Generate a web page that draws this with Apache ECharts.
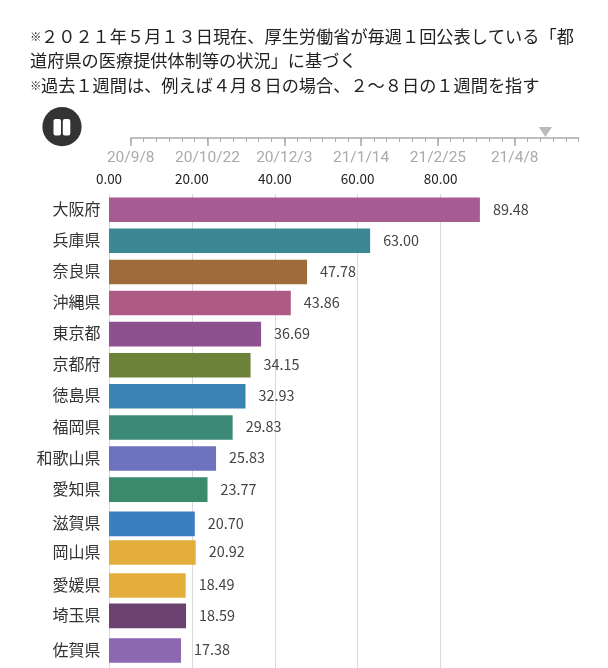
<!DOCTYPE html>
<html><head><meta charset="utf-8">
<style>html,body{margin:0;padding:0;background:#fff}#c{width:608px;height:668px}</style>
<script src="https://cdn.jsdelivr.net/npm/echarts@6/dist/echarts.min.js"></script>
</head><body><div id="c"></div>
<script>
const noteLines = [
  "２０２１年５月１３日現在、厚生労働省が毎週１回公表している「都",
  "道府県の医療提供体制等の状況」に基づく",
  "過去１週間は、例えば４月８日の場合、２～８日の１週間を指す"
];
const prefectures = ["大阪府","兵庫県","奈良県","沖縄県","東京都","京都府","徳島県","福岡県","和歌山県","愛知県","滋賀県","岡山県","愛媛県","埼玉県","佐賀県"];
const values = [89.48,63.00,47.78,43.86,36.69,34.15,32.93,29.83,25.83,23.77,20.70,20.92,18.49,18.59,17.38];
// ranks are fractional: the picture is a frame of a running bar race
const ranks = [0,1,2,3,4,5,6,7,8,9,10.1,11.02,12.08,13.06,14.17];
const colors = ["#a65b92","#3b8793","#9d6c39","#ad5a85","#8d5190","#6b8238","#3a84b4","#3c8a75","#6e71bd","#3c8a6c","#3a7fc0","#e3ae3c","#e3ae3c","#6b4270","#8b68b0"];
const timelineLabels = ["20/9/8","20/10/22","20/12/3","21/1/14","21/2/25","21/4/8"];
const timelineWeeks = 35;
const timelineCurrent = 32.4;

const FONT = '"Noto Sans CJK JP","Noto Sans",sans-serif';
const chart = echarts.init(document.getElementById('c'), null, {renderer:'canvas'});

function note(text, top, star) {
  return {
    left: 30, top: top, padding: 0,
    text: (star ? '{s|※}' : '') + '{t|' + text + '}',
    textStyle: { fontWeight:'normal', rich: {
      s: {fontFamily: FONT, fontSize: 11.5, fontWeight:'bold', color:'#222', width: 11},
      t: {fontFamily: FONT, fontSize: 17.2, fontWeight:'normal', color:'#222'}
    }}
  };
}

chart.setOption({
  animation: false,
  backgroundColor: '#fff',
  title: [note(noteLines[0], 28, true), note(noteLines[1], 52, false), note(noteLines[2], 77, true)],
  grid: [
    {left: 109, top: 194, width: 414.5, height: 474},
    {left: 130.7, top: 118, width: 448, height: 20}
  ],
  xAxis: [
    {
      gridIndex: 0, type: 'value', position: 'top', min: 0, max: 100, interval: 20,
      axisLine: {show:false}, axisTick: {show:false},
      splitLine: {show:true, showMaxLine:false, lineStyle:{color:'#d8d8de', width:1}},
      axisLabel: {
        margin: 8, showMaxLabel:false, color:'#222', fontFamily: FONT, fontSize: 13.5,
        formatter: v => v.toFixed(2)
      }
    },
    {
      gridIndex: 1, type: 'value', position: 'bottom', min: 0, max: timelineWeeks, interval: 1,
      axisLine: {show:true, lineStyle:{color:'#aaaaaa', width:1.5}},
      axisTick: {show:true, length:4, lineStyle:{color:'#aaaaaa', width:1}},
      axisLabel: {show:false}, splitLine: {show:false}
    },
    {
      gridIndex: 1, type: 'value', position: 'bottom', min: 0, max: timelineWeeks, interval: 6,
      axisLine: {show:false},
      axisTick: {show:true, length:8, lineStyle:{color:'#aaaaaa', width:1.5}},
      axisLabel: {
        margin: 12, showMaxLabel:false, color:'#aaaaaa', fontFamily:'Roboto', fontSize: 15.5,
        formatter: v => timelineLabels[v / 6] || ''
      },
      splitLine: {show:false}
    }
  ],
  yAxis: [
    {gridIndex:0, type:'value', inverse:true, min:-0.505, max:14.735, show:false},
    {gridIndex:1, type:'value', min:0, max:1, show:false}
  ],
  graphic: [
    {type:'circle', shape:{cx:62, cy:126.7, r:19.6}, style:{fill:'#333333'}, z:10},
    {type:'rect', shape:{x:53.5, y:119, width:7.5, height:16.6, r:2}, style:{fill:'#ffffff'}, z:11},
    {type:'rect', shape:{x:62.8, y:119, width:7.5, height:16.6, r:2}, style:{fill:'#ffffff'}, z:11}
  ],
  series: [
    {
      type:'custom', xAxisIndex:0, yAxisIndex:0, clip:false,
      encode:{x:0, y:1},
      data: values.map((v,i)=>[v, ranks[i], i]),
      renderItem(params, api) {
        const v = api.value(0), i = api.value(2);
        const p0 = api.coord([0, api.value(1)]);
        const p1 = api.coord([v, api.value(1)]);
        const h = api.size([0,1])[1] * 0.79;
        return {type:'group', children:[
          {type:'rect', shape:{x:p0[0], y:p0[1]-h/2, width:p1[0]-p0[0], height:h},
           style:{fill:colors[i]}},
          {type:'text', x:p0[0]-8.5, y:p0[1]-1,
           style:{text:prefectures[i], fill:'#333', font:'16px '+FONT, textAlign:'right', textVerticalAlign:'middle'}},
          {type:'text', x:p1[0]+13, y:p0[1]-0.5,
           style:{text:v.toFixed(2), fill:'#444', font:'14.4px '+FONT, textAlign:'left', textVerticalAlign:'middle'}}
        ]};
      }
    },
    {
      type:'scatter', xAxisIndex:2, yAxisIndex:1, clip:false,
      symbol:'triangle', symbolRotate:180, symbolSize:[13,10], symbolOffset:[0,-6],
      itemStyle:{color:'#aaaaaa'}, silent:true,
      data:[[timelineCurrent,0]]
    }
  ]
});
</script></body></html>
